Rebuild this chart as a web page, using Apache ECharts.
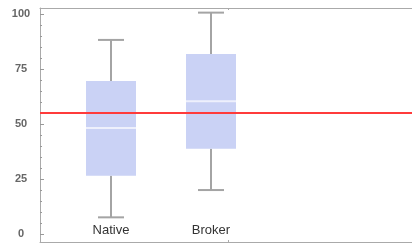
<!DOCTYPE html>
<html>
<head>
<meta charset="utf-8">
<script src="https://cdn.jsdelivr.net/npm/echarts@6/dist/echarts.min.js"></script>
<style>
  html, body { margin: 0; padding: 0; background: #fff; }
  #main { width: 412px; height: 244px; }
</style>
</head>
<body>
<div id="main"></div>
<script>
// 分类和箱线数据 [min, Q1, median, Q3, max]
const categories = ['Native', 'Broker'];
const nativeBox = [7.6, 26.5, 48.2, 69.5, 88.2];
const brokerBox = [20.0, 38.8, 60.3, 81.8, 100.6];
const threshold = 55;

// 刻度
const yMajorTicks = [0, 25, 50, 75, 100];
const yMinorTicks = [5, 10, 15, 20, 30, 35, 40, 45, 55, 60, 65, 70, 80, 85, 90, 95];
const xTicks = [1.17];

const boxes = [nativeBox, brokerBox];
const seriesData = boxes.map((b, i) => [i].concat(b));

const frameColor = '#aaaaaa';

function renderBox(params, api) {
  const x = api.value(0);
  const lo = api.coord([x, api.value(1)]);
  const q1 = api.coord([x, api.value(2)]);
  const med = api.coord([x, api.value(3)]);
  const q3 = api.coord([x, api.value(4)]);
  const hi = api.coord([x, api.value(5)]);
  const unit = api.size([1, 0])[0];
  const halfBox = unit * 0.25;
  const halfCap = unit * 0.13;
  const whisker = { stroke: '#a4a4a4', lineWidth: 2 };
  return {
    type: 'group',
    children: [
      { type: 'line', shape: { x1: hi[0], y1: hi[1], x2: q3[0], y2: q3[1] }, style: whisker },
      { type: 'line', shape: { x1: lo[0], y1: lo[1], x2: q1[0], y2: q1[1] }, style: whisker },
      { type: 'line', shape: { x1: hi[0] - halfCap, y1: hi[1], x2: hi[0] + halfCap, y2: hi[1] }, style: whisker },
      { type: 'line', shape: { x1: lo[0] - halfCap, y1: lo[1], x2: lo[0] + halfCap, y2: lo[1] }, style: whisker },
      { type: 'rect', shape: { x: q3[0] - halfBox, y: q3[1], width: halfBox * 2, height: q1[1] - q3[1] }, style: { fill: '#cad2f5' } },
      { type: 'line', shape: { x1: med[0] - halfBox, y1: med[1], x2: med[0] + halfBox, y2: med[1] }, style: { stroke: '#eef0fc', lineWidth: 2 } }
    ]
  };
}

const myChart = echarts.init(document.getElementById('main'));
const option = {
  animation: false,
  grid: { left: 40, right: 0, top: 8, bottom: 2 },
  xAxis: [
    {
      type: 'value', position: 'bottom', min: -0.71, max: 3.01,
      axisLine: { show: true, onZero: false, lineStyle: { color: frameColor, width: 1 } },
      axisTick: { show: true, inside: true, length: 2, customValues: xTicks, lineStyle: { color: frameColor } },
      axisLabel: {
        inside: true, margin: 5, customValues: [0, 1],
        formatter: v => categories[Math.round(v)],
        color: '#333', fontSize: 13, fontFamily: 'Liberation Sans, Arial, sans-serif'
      },
      splitLine: { show: false }
    },
    {
      type: 'value', position: 'top', min: -0.71, max: 3.01,
      axisLine: { show: true, onZero: false, lineStyle: { color: frameColor, width: 1 } },
      axisTick: { show: true, inside: true, length: 2, customValues: xTicks, lineStyle: { color: frameColor } },
      axisLabel: { show: false },
      splitLine: { show: false }
    }
  ],
  yAxis: [
    {
      type: 'value', position: 'left', min: -3.6, max: 102.7,
      axisLine: { show: true, onZero: false, lineStyle: { color: frameColor, width: 1 } },
      axisTick: { show: true, inside: true, length: 4, customValues: yMajorTicks, lineStyle: { color: '#999' } },
      axisLabel: {
        customValues: yMajorTicks, align: 'center', margin: 19,
        color: '#666', fontSize: 11, fontWeight: 'bold', fontFamily: 'Liberation Sans, Arial, sans-serif'
      },
      splitLine: { show: false }
    },
    {
      type: 'value', position: 'left', min: -3.6, max: 102.7,
      axisLine: { show: false, onZero: false },
      axisTick: { show: true, inside: true, length: 2, customValues: yMinorTicks, lineStyle: { color: '#999' } },
      axisLabel: { show: false },
      splitLine: { show: false }
    }
  ],
  series: [
    {
      type: 'custom',
      xAxisIndex: 0,
      yAxisIndex: 0,
      renderItem: renderBox,
      encode: { x: 0, y: [1, 2, 3, 4, 5] },
      data: seriesData,
      markLine: {
        silent: true,
        symbol: 'none',
        label: { show: false },
        lineStyle: { color: '#ff3b3b', width: 2, type: 'solid' },
        data: [{ yAxis: threshold }]
      }
    }
  ]
};
myChart.setOption(option);
</script>
</body>
</html>
